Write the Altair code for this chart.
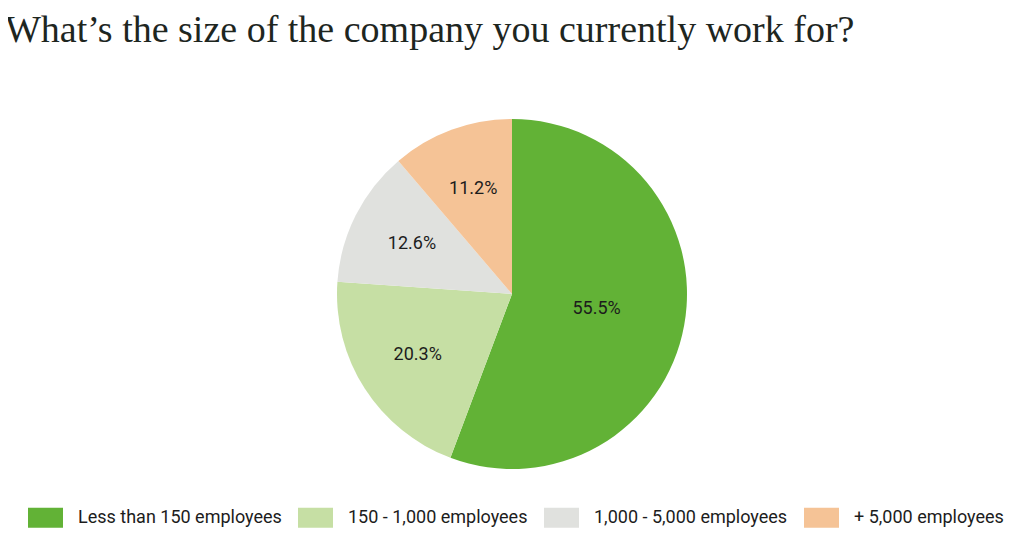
import altair as alt
import pandas as pd

categories = ["Less than 150 employees", "150 - 1,000 employees",
              "1,000 - 5,000 employees", "+ 5,000 employees"]
values = [55.5, 20.3, 12.6, 11.2]
colors = ["#62B236", "#C6DFA4", "#E0E1DE", "#F5C396"]

df = pd.DataFrame({"category": categories, "value": values,
                   "idx": list(range(len(categories)))})

rect_path = "M-1,-0.5714L1,-0.5714L1,0.5714L-1,0.5714Z"

CX, CY = 504, 228

pie = alt.Chart(df).mark_arc(outerRadius=175, stroke=None).encode(
    theta=alt.Theta("value:Q", stack=True),
    order=alt.Order("idx:Q"),
    x=alt.value(CX),
    y=alt.value(CY),
    color=alt.Color(
        "category:N",
        scale=alt.Scale(domain=categories, range=colors),
        sort=categories,
        legend=alt.Legend(
            title=None, orient="none", direction="horizontal", columns=4,
            legendX=20, legendY=434, padding=0,
            symbolType=rect_path, symbolSize=1225, symbolStrokeWidth=0,
            symbolOpacity=1,
            labelFont="Roboto", labelFontSize=18, labelColor="#1c1c1c",
            labelOffset=15, columnPadding=16, labelLimit=400,
        ),
    ),
)

labels = alt.Chart(df).transform_joinaggregate(
    total="sum(value)"
).transform_window(
    cum="sum(value)", sort=[alt.SortField("idx")]
).transform_calculate(
    mid="(datum.cum - datum.value / 2) / datum.total * 2 * PI",
    label="format(datum.value, '.1f') + '%'",
    r="datum.value > 50 ? 86 : 112",
).mark_text(font="Roboto", fontSize=18, color="#1c1c1c").encode(
    theta=alt.Theta("mid:Q", scale=None, stack=None),
    radius=alt.Radius("r:Q", scale=None),
    text="label:N",
    x=alt.value(CX),
    y=alt.value(CY),
)

chart = alt.layer(pie, labels).resolve_scale(theta="independent").properties(
    width=1008, height=468,
    padding={"left": 0, "top": 58, "right": 0, "bottom": 0},
    autosize=alt.AutoSizeParams(type="none"),
    title=alt.TitleParams(
        "What’s the size of the company you currently work for?",
        anchor="start", font="Liberation Serif", fontSize=38,
        fontWeight="normal", color="#1e261f", dx=-3, offset=16,
    ),
).configure_view(stroke=None)

chart.save("out.html", embed_options={"renderer": "svg", "actions": False})
